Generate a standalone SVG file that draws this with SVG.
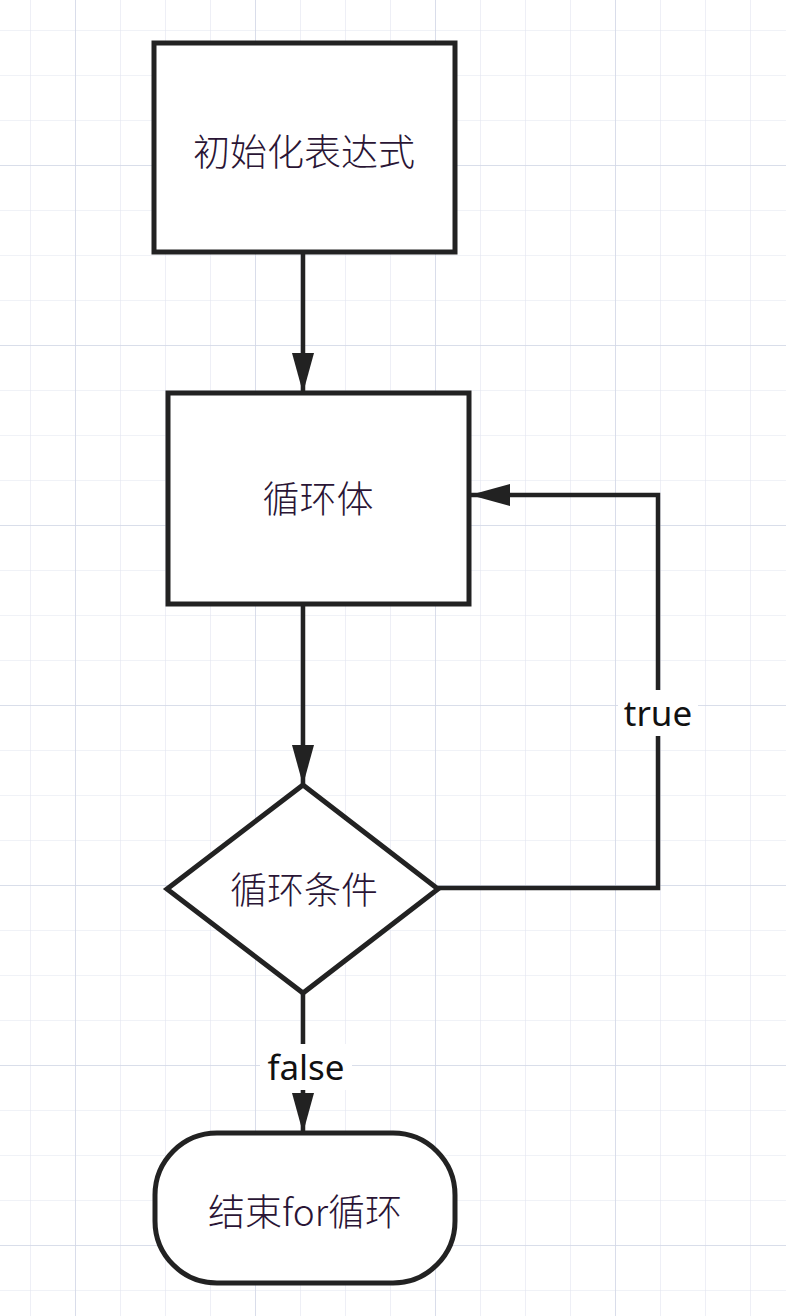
<svg xmlns="http://www.w3.org/2000/svg" width="786" height="1316" viewBox="0 0 786 1316">
<defs>
<pattern id="g" x="30" y="30" width="45" height="45" patternUnits="userSpaceOnUse"><path d="M0 0H45M0 0V45" fill="none" stroke="#e2e5f0" stroke-width="1.2"/></pattern>
<pattern id="G" x="-105" y="-15" width="180" height="180" patternUnits="userSpaceOnUse"><path d="M0 0H180M0 0V180" fill="none" stroke="#d2d7e6" stroke-width="1.5"/></pattern>
<marker id="a" viewBox="0 0 40 22" refX="40" refY="11" markerWidth="40" markerHeight="22" markerUnits="userSpaceOnUse" orient="auto"><path d="M0 0L40 11L0 22Z" fill="#222"/></marker>
</defs>
<style>
.s{fill:#fff;stroke:#222;stroke-width:5}
.c{fill:none;stroke:#222;stroke-width:4.5}
text{font-family:"Noto Sans CJK SC","Noto Sans",sans-serif;font-size:37px;font-weight:300;fill:#2a1535;text-anchor:middle;dominant-baseline:central}
.l{font-family:"Noto Sans","Open Sans",sans-serif;font-size:35px;font-weight:400;fill:#111}
</style>
<rect width="786" height="1316" fill="#fff"/>
<rect width="786" height="1316" fill="url(#g)"/>
<rect width="786" height="1316" fill="url(#G)"/>
<g id="connectors">
<path class="c" d="M303 252V393" marker-end="url(#a)"/>
<path class="c" d="M303 604V785" marker-end="url(#a)"/>
<path class="c" d="M438 888H658V495H470" marker-end="url(#a)"/>
<path class="c" d="M303 993V1133" marker-end="url(#a)"/>
<rect x="618" y="690" width="80" height="46" fill="#fff"/>
<text class="l" x="658" y="712">true</text>
<rect x="260" y="1044" width="92" height="46" fill="#fff"/>
<text class="l" x="306" y="1066">false</text>
</g>
<g id="init"><rect class="s" x="154" y="43" width="301" height="209"/><text x="304" y="150">初始化表达式</text></g>
<g id="body"><rect class="s" x="168" y="393" width="301" height="211"/><text x="318" y="497">循环体</text></g>
<g id="cond"><path class="s" d="M303 785L438 889L303 993L167 889Z"/><text x="304" y="888">循环条件</text></g>
<g id="end"><rect class="s" x="155" y="1133" width="300" height="150" rx="62"/><text x="305" y="1210">结束for循环</text></g>
</svg>
